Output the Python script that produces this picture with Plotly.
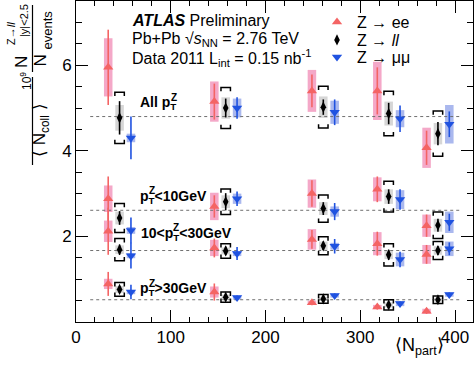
import plotly.graph_objects as go

# ---------------- data ----------------
npart = [46, 158, 261, 330, 382]          # <N_part> of the centrality bins
ee_shift, mm_shift = -12, 12              # horizontal displacement of channels
bin_labels = ["All", "lt10", "10to30", "gt30"]

ee_val = [[5.95, 5.15, 5.40, 5.40, 4.07],
          [2.88, 2.70, 3.00, 3.10, 2.25],
          [2.12, 1.73, 1.93, 1.83, 1.58],
          [0.89, 0.70, 0.45, 0.35, 0.25]]
ee_stat = [[0.88, 0.42, 0.38, 0.55, 0.40],
           [0.52, 0.26, 0.31, 0.30, 0.26],
           [0.55, 0.22, 0.22, 0.28, 0.22],
           [0.28, 0.20, 0.06, 0.06, 0.06]]
ee_sys = [[0.68, 0.47, 0.49, 0.68, 0.47],
          [0.31, 0.32, 0.33, 0.28, 0.26],
          [0.25, 0.19, 0.24, 0.27, 0.22],
          [0.12, 0.13, 0.05, 0.05, 0.06]]

ll_val = [[4.77, 5.00, 5.02, 4.87, 4.40],
          [2.43, 2.81, 2.65, 2.93, 2.26],
          [1.69, 1.66, 1.78, 1.57, 1.67],
          [0.76, 0.58, 0.54, 0.40, 0.52]]
ll_stat = [[0.39, 0.22, 0.18, 0.25, 0.27],
           [0.16, 0.20, 0.15, 0.17, 0.15],
           [0.12, 0.10, 0.10, 0.12, 0.10],
           [0.07, 0.05, 0.05, 0.05, 0.05]]
ll_sys = [[0.60, 0.48, 0.49, 0.52, 0.53],
          [0.34, 0.30, 0.32, 0.36, 0.31],
          [0.26, 0.17, 0.21, 0.26, 0.21],
          [0.16, 0.12, 0.10, 0.12, 0.09]]
ll_box = [[0.30, 0.25, 0.25, 0.28, 0.25],
          [0.15, 0.15, 0.15, 0.17, 0.15],
          [0.10, 0.08, 0.10, 0.10, 0.10],
          [0.08, 0.06, 0.05, 0.06, 0.05]]

mm_val = [[4.30, 5.00, 4.90, 4.75, 4.62],
          [2.14, 2.88, 2.58, 2.86, 2.33],
          [1.55, 1.60, 1.77, 1.46, 1.71],
          [0.70, 0.57, 0.62, 0.43, 0.64]]
mm_stat = [[0.50, 0.25, 0.30, 0.31, 0.30],
           [0.30, 0.17, 0.20, 0.24, 0.20],
           [0.30, 0.15, 0.17, 0.18, 0.15],
           [0.17, 0.05, 0.05, 0.05, 0.05]]
mm_sys = [[0.10, 0.22, 0.27, 0.20, 0.45],
          [0.08, 0.12, 0.12, 0.22, 0.25],
          [0.06, 0.06, 0.08, 0.16, 0.17],
          [0.05, 0.05, 0.05, 0.06, 0.05]]

ref_val = [4.80, 2.61, 1.67, 0.52]        # dashed reference levels
ref_span = [15, 406]

x_ticks = [0, 100, 200, 300, 400]
y_ticks = [2, 4, 6]

# ---------------- style / layout constants ----------------
W, H = 474, 370
ML, MR, MT, MB = 76, 1, 1, 48
PW, PH = W - ML - MR, H - MT - MB
FONT = "Arial, Liberation Sans, sans-serif"
C_EE, C_EE_BOX = "#f46464", "#f4a8c8"
C_MM, C_MM_BOX = "#1f52e0", "#aab8ee"
C_LL, C_LL_BOX = "#000000", "#d6d6d6"
BOX_W = 9
BR_W, BR_STUB = 10, 0.09


def px(x):
    return (x - ML) / PW


def py(y):
    return (H - MB - y) / PH


def flat(a):
    return [v for row in a for v in row]


def xs(shift):
    return [n + shift for _ in bin_labels for n in npart]


fig = go.Figure()

# systematic boxes
for shift, val, sys, col in [(ee_shift, ee_val, ee_sys, C_EE_BOX),
                             (0, ll_val, ll_box, C_LL_BOX),
                             (mm_shift, mm_val, mm_sys, C_MM_BOX)]:
    v, s = flat(val), flat(sys)
    fig.add_trace(go.Bar(x=xs(shift), y=[2 * e for e in s],
                         base=[a - e for a, e in zip(v, s)],
                         width=BOX_W, marker=dict(color=col, line=dict(width=0)),
                         showlegend=False, hoverinfo="skip"))

# dashed reference lines
lx, ly = [], []
for r in ref_val:
    lx += [ref_span[0], ref_span[1], None]
    ly += [r, r, None]
fig.add_trace(go.Scatter(x=lx, y=ly, mode="lines",
                         line=dict(color="#707070", width=1, dash="3px,3px"),
                         showlegend=False, hoverinfo="skip"))

# brackets for Z->ll systematics
bx, by = [], []
for x, v, s in zip(xs(0), flat(ll_val), flat(ll_sys)):
    xl, xr = x - BR_W / 2, x + BR_W / 2
    top, bot = v + s, v - s
    bx += [xl, xl, xr, xr, None, xl, xl, xr, xr, None]
    by += [top - BR_STUB, top, top, top - BR_STUB, None,
           bot + BR_STUB, bot, bot, bot + BR_STUB, None]
fig.add_trace(go.Scatter(x=bx, y=by, mode="lines",
                         line=dict(color="black", width=1.5),
                         showlegend=False, hoverinfo="skip"))

# points with stat errors
series = [("Z \u2192 ee", ee_shift, ee_val, ee_stat, C_EE, "triangle-up", 9, "legend"),
          ("Z \u2192 <i>ll</i>", 0, ll_val, ll_stat, C_LL, "diamond-tall", 8, "legend2"),
          ("Z \u2192 \u03bc\u03bc", mm_shift, mm_val, mm_stat, C_MM, "triangle-down", 9, "legend3")]
for name, shift, val, stat, col, sym, size, leg in series:
    fig.add_trace(go.Scatter(
        x=xs(shift), y=flat(val), mode="markers", name=name, legend=leg,
        marker=dict(symbol=sym, size=size, color=col, line=dict(width=0)),
        error_y=dict(type="data", array=flat(stat), color=col, thickness=1.6, width=0),
        hoverinfo="skip"))

legend_rows = [22, 40, 57]
legend_common = dict(xanchor="left", yanchor="middle", bgcolor="rgba(0,0,0,0)",
                     borderwidth=0, font=dict(family=FONT, size=16, color="black"),
                     itemwidth=30, tracegroupgap=0)
leg_x = px(317)

ann = []
# top text block
ann.append(dict(text="<b><i>ATLAS</i></b> Preliminary", x=px(130), y=py(20.5)))
ann.append(dict(text="Pb+Pb \u221a<i>s</i><sub>NN</sub> = 2.76 TeV", x=px(130), y=py(39)))
ann.append(dict(text="Data 2011 L<sub>int</sub> = 0.15 nb<sup>-1</sup>", x=px(130), y=py(58)))
for a in ann:
    a.update(xref="paper", yref="paper", xanchor="left", yanchor="middle",
             showarrow=False, font=dict(family=FONT, size=16, color="black"))

# category labels (data coordinates)
lab_font = dict(family=FONT, size=14, color="black")
cat = [("<b>All p<sub>T</sub></b>", 65.5, 5.11, 30.5),
       ("<b>p<sub>T</sub>&lt;10GeV</b>", 65.5, 2.93, 8.6),
       ("<b>10&lt;p<sub>T</sub>&lt;30GeV</b>", 66.5, 2.06, 32.3),
       ("<b>p<sub>T</sub>&gt;30GeV</b>", 65.5, 0.77, 8.6)]
for t, x, y, zoff in cat:
    ann.append(dict(text=t, x=x, y=y, xref="x", yref="y", xanchor="left",
                    yanchor="middle", showarrow=False, font=lab_font))
    ann.append(dict(text="<b>Z</b>", x=x, y=y, xref="x", yref="y", xanchor="left",
                    yanchor="middle", xshift=zoff, yshift=6, showarrow=False,
                    font=dict(family=FONT, size=10, color="black")))

# x-axis title
ann.append(dict(text="\u27e8N<sub>part</sub>\u27e9", x=px(446), y=py(347), xref="paper",
                yref="paper", xanchor="right", yanchor="middle", showarrow=False,
                font=dict(family=FONT, size=18, color="black")))

# y-axis title (built as a rotated fraction)
def yt(text, x, y, size):
    ann.append(dict(text=text, x=px(x), y=py(y), xref="paper", yref="paper",
                    xanchor="center", yanchor="middle", textangle=-90, showarrow=False,
                    font=dict(family=FONT, size=size, color="black")))

yt("N", 21, 62, 17)
yt("Z\u2192<i>ll</i>", 11, 34, 11)
yt("|y|&lt;2.5", 24, 21, 11)
yt("N", 39.5, 61, 17)
yt("events", 46.5, 30, 13)
yt("10<sup>9</sup>", 26, 81, 12)
yt("\u27e8 N<sub>coll</sub> \u27e9", 41, 130, 17)

shapes = [dict(type="line", xref="paper", yref="paper", x0=px(32.5), x1=px(32.5),
               y0=py(5), y1=py(72), line=dict(color="black", width=1.2)),
          dict(type="line", xref="paper", yref="paper", x0=px(32.5), x1=px(32.5),
               y0=py(77), y1=py(165), line=dict(color="black", width=1.2))]

axis_common = dict(showline=True, linecolor="black", linewidth=1, mirror="ticks",
                   ticks="inside", ticklen=12, tickwidth=1, tickcolor="black",
                   showgrid=False, zeroline=False,
                   tickfont=dict(family=FONT, size=17, color="black"))

fig.update_layout(
    width=W, height=H, margin=dict(l=ML, r=MR, t=MT, b=MB),
    plot_bgcolor="white", paper_bgcolor="white", barmode="overlay",
    showlegend=True,
    legend=dict(x=leg_x, y=py(legend_rows[0]), **legend_common),
    legend2=dict(x=leg_x, y=py(legend_rows[1]), **legend_common),
    legend3=dict(x=leg_x, y=py(legend_rows[2]), **legend_common),
    xaxis=dict(range=[0, 419], tickvals=x_ticks,
               minor=dict(dtick=20, tick0=0, ticklen=5, ticks="inside", tickcolor="black"),
               **axis_common),
    yaxis=dict(range=[0, 7.5], tickvals=y_ticks,
               minor=dict(dtick=0.5, tick0=0, ticklen=6, ticks="inside", tickcolor="black"),
               **axis_common),
    annotations=ann, shapes=shapes,
)

fig.write_html("out.html", config={"displayModeBar": False},
               post_script="document.body.style.margin='0';document.body.style.overflow='hidden';")
